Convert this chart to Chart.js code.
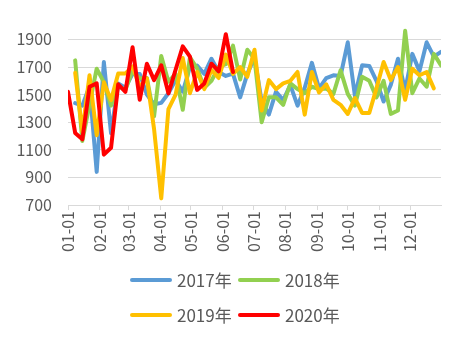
<!DOCTYPE html>
<html>
<head>
<meta charset="utf-8">
<script src="https://cdn.jsdelivr.net/npm/chart.js@4.4.1/dist/chart.umd.min.js"></script>
<style>
  html, body { margin: 0; padding: 0; background: #ffffff; }
  #wrap { position: relative; width: 465px; height: 343px; overflow: hidden; }
  #c { position: absolute; left: 0; top: 0; }
  .lg-line { position: absolute; height: 4px; width: 42px; border-radius: 2px; }
  .lg-text { position: absolute; font-family: "Noto Sans CJK SC", "Noto Sans", sans-serif; font-size: 17px; line-height: 20px; color: #595959; white-space: nowrap; }
</style>
</head>
<body>
<div id="wrap">
  <canvas id="c" width="465" height="343"></canvas>
  <div id="legend"></div>
</div>
<script>
// ---- data ----
const seriesNames = ["2017年", "2018年", "2019年", "2020年"];
const monthDays = [0, 31, 59, 90, 120, 151, 181, 212, 243, 273, 304, 334];
const monthLabels = ["01-01", "02-01", "03-01", "04-01", "05-01", "06-01", "07-01", "08-01", "09-01", "10-01", "11-01", "12-01"];
const yTicks = [700, 900, 1100, 1300, 1500, 1700, 1900];
const weekDays = [0,7,14,21,28,35,42,49,56,63,70,77,84,91,98,105,112,119,126,133,140,147,154,161,168,175,182,189,196,203,210,217,224,231,238,245,252,259,266,273,280,287,294,301,308,315,322,329,336,343,350,357,364];

const s2017 = [null,1438,1420,1560,940,1736,1220,1580,1550,1650,1650,1500,1430,1440,1510,1605,1521,1700,1710,1650,1760,1664,1635,1652,1480,1650,1770,1450,1355,1521,1460,1569,1420,1550,1730,1545,1620,1640,1635,1879,1490,1712,1708,1600,1450,1570,1760,1530,1795,1670,1879,1775,1810];
const s2018 = [null,1748,1164,1430,1688,1590,1420,1560,1533,1676,1617,1620,1343,1780,1593,1650,1390,1770,1690,1550,1600,1700,1720,1855,1610,1825,1760,1300,1480,1480,1426,1581,1540,1510,1557,1540,1545,1505,1676,1505,1420,1629,1600,1480,1600,1360,1385,1962,1510,1617,1557,1795,1712];
const s2019 = [null,1658,1230,1640,1205,1590,1460,1652,1652,1705,1557,1617,1250,748,1395,1500,1765,1510,1664,1540,1680,1620,1790,1650,1700,1629,1825,1385,1605,1540,1581,1600,1664,1355,1664,1515,1575,1462,1426,1360,1474,1367,1367,1545,1736,1605,1700,1462,1688,1640,1664,1545,null];
const s2020 = [1520,1222,1176,1557,1581,1065,1115,1575,1520,1843,1462,1724,1605,1712,1509,1680,1850,1775,1534,1581,1724,1669,1938,1664];

const seriesColors = ["#5B9BD5", "#92D050", "#FFC000", "#FF0000"];
// ---- chart ----
const toPts = arr => arr.map((v, i) => ({ x: weekDays[i], y: v }));
const allSeries = [s2017, s2018, s2019, s2020];
const datasets = allSeries.map((s, k) => ({
  label: seriesNames[k],
  data: toPts(s),
  borderColor: seriesColors[k],
  backgroundColor: seriesColors[k],
  borderWidth: 4,
  pointRadius: 0,
  pointHoverRadius: 0,
  tension: 0,
  borderJoinStyle: 'round',
  borderCapStyle: 'round',
  spanGaps: false,
  order: 4 - k
}));

const FONT = '"Noto Sans CJK SC", "Noto Sans", sans-serif';
const chart = new Chart(document.getElementById('c'), {
  type: 'line',
  data: { datasets },
  options: {
    responsive: false,
    animation: false,
    devicePixelRatio: 1,
    layout: { padding: { left: 0, right: 24, top: 23, bottom: 0 } },
    plugins: { legend: { display: false }, tooltip: { enabled: false } },
    scales: {
      x: {
        type: 'linear',
        min: 0,
        max: 364,
        afterBuildTicks: sc => { sc.ticks = monthDays.map(v => ({ value: v })); },
        afterFit: sc => { sc.height = 343 - 205; },
        ticks: {
          autoSkip: false,
          minRotation: 90,
          maxRotation: 90,
          padding: 1,
          color: '#595959',
          font: { family: FONT, size: 16 },
          callback: v => monthLabels[monthDays.indexOf(v)]
        },
        grid: { drawOnChartArea: false, drawTicks: true, tickLength: 5, color: '#d9d9d9', lineWidth: 1 },
        border: { display: true, color: '#d9d9d9', width: 1 }
      },
      y: {
        type: 'linear',
        min: 700,
        max: 2000,
        afterBuildTicks: sc => { sc.ticks = yTicks.map(v => ({ value: v })); },
        afterFit: sc => { sc.width = 68; },
        ticks: {
          padding: 16,
          color: '#595959',
          font: { family: FONT, size: 16 },
          callback: v => String(v)
        },
        grid: { drawTicks: false, color: '#d9d9d9', lineWidth: 1 },
        border: { display: false }
      }
    }
  }
});

// ---- legend (HTML, built from the chart's datasets) ----
const lg = document.getElementById('legend');
chart.data.datasets.forEach((ds, i) => {
  const col = i % 2, row = Math.floor(i / 2);
  const lx = 130 + col * 108, cy = 280 + row * 35;
  const line = document.createElement('div');
  line.className = 'lg-line';
  line.style.left = lx + 'px';
  line.style.top = (cy - 2) + 'px';
  line.style.background = ds.borderColor;
  lg.appendChild(line);
  const t = document.createElement('div');
  t.className = 'lg-text';
  t.style.left = (lx + 47) + 'px';
  t.style.top = (cy - 10) + 'px';
  t.textContent = ds.label;
  lg.appendChild(t);
});
</script>
</body>
</html>
